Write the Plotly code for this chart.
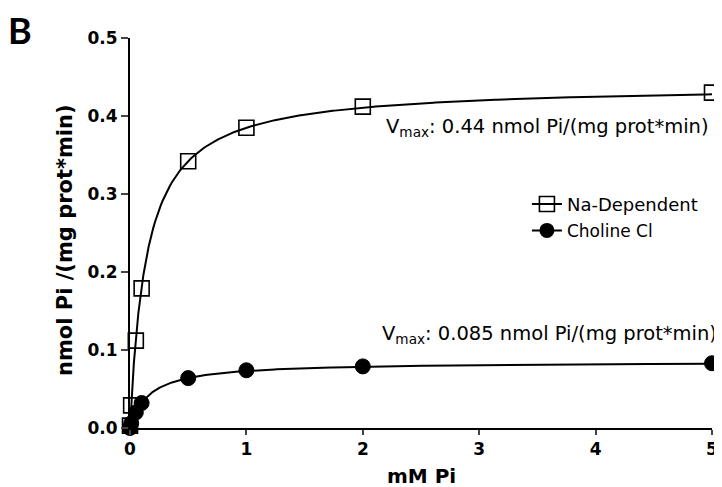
import numpy as np
import plotly.graph_objects as go

# Data
conc_mM = [0, 0.01, 0.05, 0.1, 0.5, 1, 2, 5]
na_dependent = [0.003, 0.029, 0.112, 0.179, 0.342, 0.385, 0.412, 0.430]
choline_cl = [0.0, 0.006, 0.020, 0.032, 0.064, 0.074, 0.079, 0.083]

# Michaelis-Menten fit parameters (Vmax from chart text, Km estimated)
na_vmax, na_km = 0.44, 0.143
ch_vmax, ch_km = 0.085, 0.164

x_ticks = [0, 1, 2, 3, 4, 5]
y_ticks = [0.0, 0.1, 0.2, 0.3, 0.4, 0.5]
y_ticklabels = ["0.0", "0.1", "0.2", "0.3", "0.4", "0.5"]

xfit = np.concatenate([np.linspace(0, 0.2, 80), np.linspace(0.2, 5, 300)])
na_fit = na_vmax * xfit / (na_km + xfit)
ch_fit = ch_vmax * xfit / (ch_km + xfit)

FONT = "DejaVu Sans, Verdana, sans-serif"
fig = go.Figure()

line = dict(color="black", width=2)
fig.add_trace(go.Scatter(x=xfit, y=na_fit, mode="lines", line=line, showlegend=False, hoverinfo="skip"))
fig.add_trace(go.Scatter(x=xfit, y=ch_fit, mode="lines", line=line, showlegend=False, hoverinfo="skip"))

fig.add_trace(go.Scatter(x=conc_mM, y=choline_cl, mode="markers", showlegend=False, cliponaxis=False,
                         marker=dict(symbol="circle", size=15, color="black", line=dict(color="black", width=1))))
fig.add_trace(go.Scatter(x=conc_mM, y=na_dependent, mode="markers", showlegend=False, cliponaxis=False,
                         marker=dict(symbol="square-open", size=15, color="black", line=dict(color="black", width=1.6))))

# legend entries
fig.add_trace(go.Scatter(x=[None], y=[None], mode="lines+markers", name="Na-Dependent", line=line,
                         marker=dict(symbol="square-open", size=15, color="black", line=dict(width=1.6))))
fig.add_trace(go.Scatter(x=[None], y=[None], mode="lines+markers",
                         name='<span style="font-size:17px">Choline Cl</span>', line=line,
                         marker=dict(symbol="circle", size=15, color="black")))

# page body has an 8px margin; size/margins compensate so the plot area lands at x 130-712, y 38-428
fig.update_layout(
    width=714, height=479,
    margin=dict(l=122, r=10, t=30, b=59, autoexpand=False),
    plot_bgcolor="white", paper_bgcolor="white",
    font=dict(family=FONT, color="black"),
    legend=dict(x=0.682, y=0.621, xanchor="left", yanchor="top", bgcolor="rgba(0,0,0,0)",
                font=dict(size=18, family=FONT), tracegroupgap=0),
    xaxis=dict(range=[0, 5], tickvals=x_ticks, ticks="outside", ticklen=5, tickwidth=2,
               showline=True, linecolor="black", linewidth=2, showgrid=False, zeroline=False,
               automargin=False, tickfont=dict(size=17, family=FONT, weight="bold")),
    yaxis=dict(range=[0, 0.5], tickvals=y_ticks, ticktext=y_ticklabels, ticks="outside", ticklen=7,
               tickwidth=2, showline=True, linecolor="black", linewidth=2, showgrid=False,
               zeroline=False, automargin=False, tickfont=dict(size=17, family=FONT, weight="bold")),
    annotations=[
        dict(text="mM Pi", xref="paper", yref="paper", x=0.5, y=0, yshift=-48, xanchor="center",
             yanchor="middle", showarrow=False, font=dict(size=20, family=FONT, weight="bold")),
        dict(text="nmol Pi /(mg prot*min)", xref="paper", yref="paper", x=0, xshift=-65, y=0.482,
             xanchor="center", yanchor="middle", textangle=-90, showarrow=False,
             font=dict(size=21, family=FONT, weight="bold")),
        dict(text="B", xref="paper", yref="paper", x=0, xshift=-110, y=1, yshift=8, xanchor="center",
             yanchor="middle", showarrow=False, font=dict(size=36, family="Lato, sans-serif", weight="bold")),
        dict(text="V<sub>max</sub>: 0.44 nmol Pi/(mg prot*min)", x=5, xshift=-1, y=0.385, xanchor="right",
             yanchor="middle", showarrow=False, font=dict(size=19.5, family=FONT)),
        dict(text="V<sub>max</sub>: 0.085 nmol Pi/(mg prot*min)", x=5, xshift=7, y=0.12, xanchor="right",
             yanchor="middle", showarrow=False, font=dict(size=19.5, family=FONT)),
    ],
)

fig.write_html("out.html")
